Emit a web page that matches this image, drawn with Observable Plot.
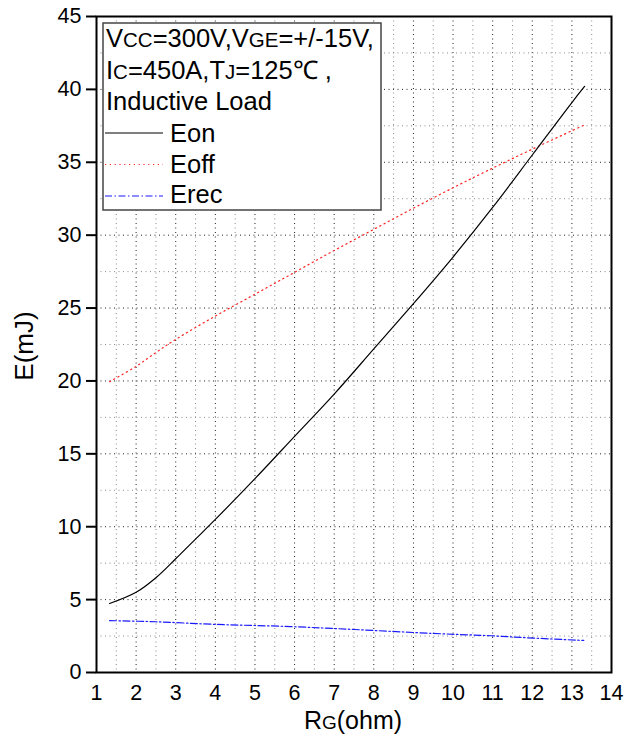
<!DOCTYPE html>
<html><head><meta charset="utf-8">
<script src="https://cdn.jsdelivr.net/npm/d3@7"></script>
<script src="https://cdn.jsdelivr.net/npm/@observablehq/plot@0.6"></script>
<style>body{margin:0;background:#fff} #chart{width:634px;height:740px}</style>
</head><body><div id="chart"></div>
<script>
// ---- data ----
const eonRg  = [1.33, 2, 2.5, 3, 3.5, 4, 5, 6, 7, 8, 9, 10, 11, 12, 13, 13.32];
const eonE   = [4.73, 5.5, 6.5, 7.8, 9.15, 10.5, 13.3, 16.2, 19.1, 22.2, 25.3, 28.5, 31.9, 35.5, 39.1, 40.2];
const eoffRg = [1.33, 2, 2.5, 3, 4, 5, 6, 7, 8, 9, 10, 10.85, 12, 13.35];
const eoffE  = [19.95, 21.0, 21.95, 22.85, 24.45, 25.95, 27.45, 28.95, 30.4, 31.85, 33.25, 34.4, 35.9, 37.6];
const erecRg = [1.33, 2.5, 4, 5.9, 7.5, 9.5, 10.95, 12.03, 13.3];
const erecE  = [3.56, 3.48, 3.3, 3.15, 2.95, 2.68, 2.52, 2.36, 2.2];
const xTicks = [1,2,3,4,5,6,7,8,9,10,11,12,13,14];
const yTicks = [0,5,10,15,20,25,30,35,40,45];
const xMajorGrid = [2,3,4,5,6,7,8,9,10,11,12,13];
const xMinorGrid = [1.5,2.5,3.5,4.5,5.5,6.5,7.5,8.5,9.5,10.5,11.5,12.5,13.5];
const yMajorGrid = [5,10,15,20,25,30,35,40];
const yMinorGrid = [2.5,7.5,12.5,17.5,22.5,27.5,32.5,37.5,42.5];
const seriesNames = ["Eon","Eoff","Erec"];
const legendHeader = [
  [["V",0],["CC",1],["=300V,V",0],["GE",1],["=+/-15V,",0]],
  [["I",0],["C",1],["=450A,T",0],["J",1],["=125℃ ,",0]],
  [["Inductive Load",0]]
];
const xTitle = [["R",0],["G",1],["(ohm)",0]];
const yTitle = "E(mJ)";

const rows = (xs, ys, s) => xs.map((x, i) => ({x, y: ys[i], s}));
const eon = rows(eonRg, eonE, "Eon");
const eoff = rows(eoffRg, eoffE, "Eoff");
const erec = rows(erecRg, erecE, "Erec");

const FONT = "'Liberation Sans', Arial, sans-serif";
const styles = {
  Eon:  {stroke: "#000", strokeWidth: 1.2, strokeDasharray: null},
  Eoff: {stroke: "#ff2020", strokeWidth: 1.2, strokeDasharray: "1.2,3.6"},
  Erec: {stroke: "#1a1aff", strokeWidth: 1.2, strokeDasharray: "7,2.5,1.5,2.5"}
};
const gridDash = "1,3.5";

const plot = Plot.plot({
  width: 634, height: 740,
  marginLeft: 96, marginRight: 23, marginTop: 16, marginBottom: 68,
  style: {fontFamily: FONT, fontSize: "21px", color: "#000", background: "#fff"},
  x: {domain: [1, 14]},
  y: {domain: [0, 45]},
  marks: [
    Plot.ruleX(xMinorGrid, {stroke: "#8a8a8a", strokeDasharray: gridDash}),
    Plot.ruleX(xMajorGrid, {stroke: "#222", strokeDasharray: gridDash}),
    Plot.ruleY(yMinorGrid, {stroke: "#8a8a8a", strokeDasharray: gridDash}),
    Plot.ruleY(yMajorGrid, {stroke: "#222", strokeDasharray: gridDash}),
    Plot.line(eoff, {x: "x", y: "y", curve: "catmull-rom", ...styles.Eoff}),
    Plot.line(erec, {x: "x", y: "y", curve: "catmull-rom", ...styles.Erec}),
    Plot.line(eon, {x: "x", y: "y", curve: "catmull-rom", ...styles.Eon}),
    Plot.frame({stroke: "#000", strokeWidth: 2}),
    Plot.axisX(xTicks, {tickSize: 0, tickPadding: 12, label: null, fontSize: 21.5}),
    Plot.axisY(yTicks, {tickSize: 10, tickPadding: 5, label: null, strokeWidth: 2, fontSize: 21.5})
  ]
});
document.getElementById("chart").appendChild(plot);

const svg = d3.select(plot);
// axis titles
const xt = svg.append("text").attr("x", 353).attr("y", 729).attr("text-anchor", "middle")
  .attr("font-family", FONT).attr("font-size", 25).attr("fill", "#000");
xTitle.forEach(([t, sm]) => xt.append("tspan").attr("font-size", sm ? 19 : 25).text(t));
svg.append("text").attr("transform", "translate(33,346) rotate(-90)").attr("text-anchor", "middle")
  .attr("font-family", FONT).attr("font-size", 26).attr("fill", "#000").text(yTitle);

// legend
const lg = svg.append("g").attr("font-family", FONT).attr("font-size", 25.5)
  .attr("fill", "#000").attr("text-anchor", "start");
lg.append("rect").attr("x", 103).attr("y", 23).attr("width", 278).attr("height", 187)
  .attr("fill", "#fff").attr("stroke", "#444").attr("stroke-width", 1.5);
legendHeader.forEach((segs, i) => {
  const t = lg.append("text").attr("x", 106).attr("y", 47 + i * 31.5).attr("text-anchor", "start");
  segs.forEach(([s, sm]) => t.append("tspan").attr("font-size", sm ? 20.5 : 25.5).text(s));
});
seriesNames.forEach((name, i) => {
  const st = styles[name];
  const ly = 133 + i * 31.5;
  lg.append("line").attr("x1", 105).attr("x2", 163).attr("y1", ly).attr("y2", ly)
    .attr("stroke", st.stroke).attr("stroke-width", st.strokeWidth)
    .attr("stroke-dasharray", st.strokeDasharray);
  lg.append("text").attr("x", 170).attr("y", 142 + i * 30.5).attr("text-anchor", "start").text(name);
});
</script>
</body></html>
